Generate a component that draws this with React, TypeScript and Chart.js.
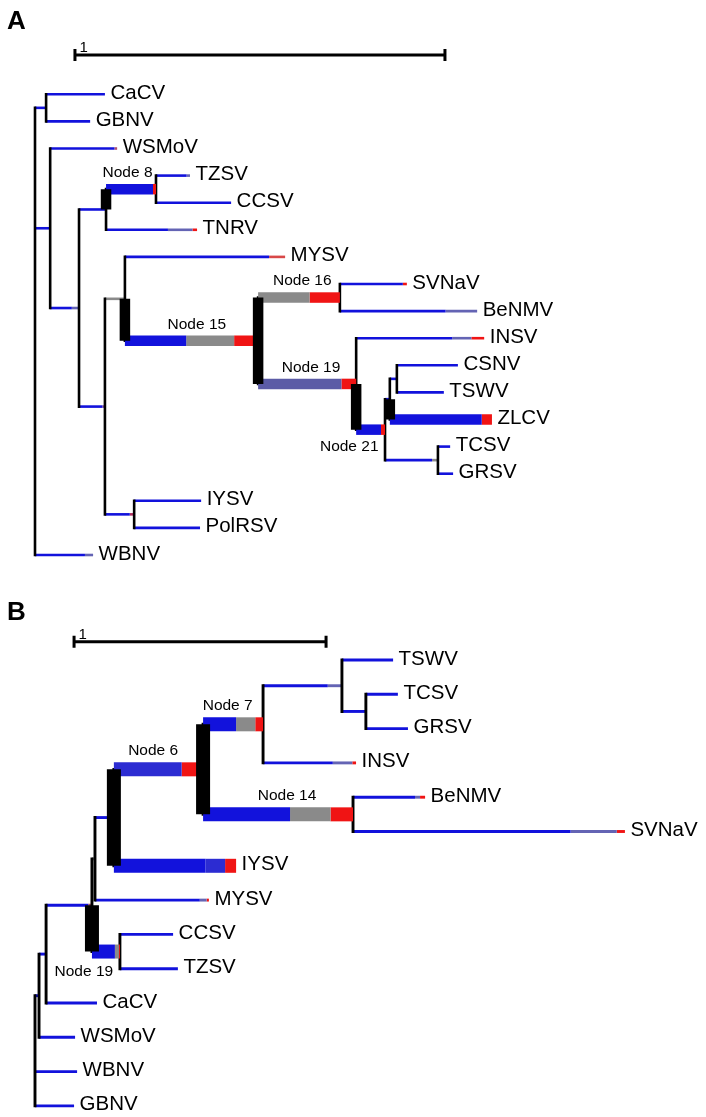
import React, { useEffect, useRef } from 'react';
import { Chart, registerables } from 'chart.js';
Chart.register(...registerables);

// ---------- colours ----------
const BLUE = '#1212dc';
const BLUE_L = '#2c2cd2';
const RED = '#f01414';
const GRAY = '#8a8a8a';
const SLATE = '#5b5ba6';
const TIP = '#6464b4';
const BLACK = '#000000';

// ---------- Panel A tree (depth in substitutions/site, scale bar = 1) ----------
const A_NODES = ['root', 'n1', 'CaCV', 'GBNV', 'n2', 'WSMoV', 'n3', 'n4', 'Node 8', 'TZSV', 'CCSV', 'TNRV', 'n5', 'n6', 'MYSV', 'Node 15', 'Node 16', 'SVNaV', 'BeNMV', 'Node 19', 'INSV', 'Node 21', 'n7', 'n8', 'CSNV', 'TSWV', 'ZLCV', 'n9', 'TCSV', 'GRSV', 'n10', 'IYSV', 'PolRSV', 'WBNV'];
const A_PARENTS = [null, 'root', 'n1', 'n1', 'root', 'n2', 'n2', 'n3', 'n4', 'Node 8', 'Node 8', 'n4', 'n3', 'n5', 'n6', 'n6', 'Node 15', 'Node 16', 'Node 16', 'Node 15', 'Node 19', 'Node 19', 'Node 21', 'n7', 'n8', 'n8', 'n7', 'Node 21', 'n9', 'n9', 'n5', 'n10', 'n10', 'root'];
const A_DEPTHS = [0, 0.030, 0.189, 0.149, 0.041, 0.222, 0.119, 0.192, 0.327, 0.419, 0.530, 0.438, 0.189, 0.243, 0.676, 0.603, 0.824, 1.005, 1.195, 0.868, 1.214, 0.946, 0.959, 0.978, 1.143, 1.105, 1.235, 1.089, 1.122, 1.130, 0.268, 0.449, 0.446, 0.157];
const A_LABELED = ['Node 8', 'Node 15', 'Node 16', 'Node 19', 'Node 21'];
const A_SCALE_VALUE = 1;

// ---------- Panel B tree ----------
const B_NODES = ['root', 'm1', 'm2', 'm3', 'm4', 'm5', 'Node 6', 'Node 7', 'm6', 'TSWV', 'm7', 'TCSV', 'GRSV', 'INSV', 'Node 14', 'BeNMV', 'SVNaV', 'IYSV', 'MYSV', 'Node 19', 'CCSV', 'TZSV', 'CaCV', 'WSMoV', 'WBNV', 'GBNV'];
const B_PARENTS = [null, 'root', 'm1', 'm2', 'm3', 'm4', 'm5', 'Node 6', 'Node 7', 'm6', 'm6', 'm7', 'm7', 'Node 7', 'Node 6', 'Node 14', 'Node 14', 'm5', 'm4', 'm3', 'Node 19', 'Node 19', 'm2', 'm1', 'root', 'root'];
const B_DEPTHS = [0, 0.016, 0.044, 0.226, 0.238, 0.313, 0.667, 0.905, 1.218, 1.421, 1.313, 1.440, 1.480, 1.274, 1.262, 1.548, 2.341, 0.798, 0.690, 0.337, 0.548, 0.567, 0.246, 0.159, 0.167, 0.155];
const B_LABELED = ['Node 6', 'Node 7', 'Node 14', 'Node 19'];
const B_SCALE_VALUE = 1;

// ---------- styles (kept apart from data) ----------
type Seg = [number, string];
type BranchStyle = { thick?: boolean; segs?: Seg[] };

const A_STYLE: Record<string, BranchStyle> = {
  'Node 8': { thick: true, segs: [[0.94, BLUE], [1, RED]] },
  'Node 15': { thick: true, segs: [[0.46, BLUE], [0.82, GRAY], [1, RED]] },
  'Node 16': { thick: true, segs: [[0.63, GRAY], [1, RED]] },
  'Node 19': { thick: true, segs: [[0.85, SLATE], [1, RED]] },
  'Node 21': { thick: true, segs: [[0.86, BLUE], [1, RED]] },
  ZLCV: { thick: true, segs: [[0.9, BLUE], [1, RED]] },
  TNRV: { segs: [[0.68, BLUE], [0.95, TIP], [1, RED]] },
  MYSV: { segs: [[0.9, BLUE], [1, '#d84848']] },
  SVNaV: { segs: [[0.94, BLUE], [1, RED]] },
  BeNMV: { segs: [[0.77, BLUE], [1, TIP]] },
  INSV: { segs: [[0.75, BLUE], [0.9, TIP], [1, RED]] },
  n9: { segs: [[0.89, BLUE], [1, GRAY]] },
  n6: { segs: [[1, GRAY]] },
  WSMoV: { segs: [[0.96, BLUE], [1, '#b05070']] },
  WBNV: { segs: [[0.86, BLUE], [1, TIP]] },
  n10: { segs: [[0.85, BLUE], [1, '#b03060']] },
  n5: { segs: [[0.9, BLUE], [1, '#8040a0']] },
  n3: { segs: [[0.75, BLUE], [1, TIP]] },
  TZSV: { segs: [[0.9, BLUE], [1, TIP]] },
};
const B_STYLE: Record<string, BranchStyle> = {
  'Node 6': { thick: true, segs: [[0.76, BLUE_L], [1, RED]] },
  'Node 7': { thick: true, segs: [[0.55, BLUE], [0.87, GRAY], [1, RED]] },
  'Node 14': { thick: true, segs: [[0.58, BLUE], [0.85, GRAY], [1, RED]] },
  IYSV: { thick: true, segs: [[0.75, BLUE], [0.91, BLUE_L], [1, RED]] },
  'Node 19': { thick: true, segs: [[0.82, BLUE], [0.96, GRAY], [1, RED]] },
  MYSV: { segs: [[0.92, BLUE], [0.98, TIP], [1, RED]] },
  INSV: { segs: [[0.75, BLUE], [0.96, TIP], [1, RED]] },
  m6: { segs: [[0.82, BLUE], [1, TIP]] },
  BeNMV: { segs: [[0.86, BLUE], [0.93, TIP], [1, RED]] },
  SVNaV: { segs: [[0.8, BLUE], [0.97, TIP], [1, RED]] },
  m4: { segs: [[1, GRAY]] },
  m5: { segs: [[0.9, BLUE], [1, '#a03070']] },
  m3: { segs: [[0.92, BLUE], [1, '#a05060']] },
};
// label placement: [fraction along the branch, above/below]
const A_LABEL_POS: Record<string, [number, 'above' | 'below']> = {
  'Node 8': [0.43, 'above'], 'Node 15': [0.54, 'above'], 'Node 16': [0.54, 'above'],
  'Node 19': [0.54, 'above'], 'Node 21': [-0.24, 'below'],
};
const B_LABEL_POS: Record<string, [number, 'above' | 'below']> = {
  'Node 6': [0.44, 'above'], 'Node 7': [0.41, 'above'], 'Node 14': [0.56, 'above'], 'Node 19': [-0.29, 'below'],
};

type Layout = {
  letter: string; height: number; rootPx: number; unitPx: number; firstLeafPx: number; leafGap: number;
  thin: number; thick: number; above: number; below: number; scaleStart: number; scaleRow: number; letterY: number;
};
const A_LAYOUT: Layout = { letter: 'A', height: 590, rootPx: 35, unitPx: 370, firstLeafPx: 94.3, leafGap: 27.1, thin: 2.6, thick: 10.5, above: 16.5, below: 17, scaleStart: 0.108, scaleRow: -1.45, letterY: 29 };
const B_LAYOUT: Layout = { letter: 'B', height: 527, rootPx: 35, unitPx: 252, firstLeafPx: 70, leafGap: 34.3, thin: 2.9, thick: 14, above: 18.5, below: 20, scaleStart: 0.155, scaleRow: -0.53, letterY: 30 };

const FONT = '"Liberation Sans", Arial, Helvetica, sans-serif';

function buildConfig(nodes: string[], parents: (string | null)[], depths: number[], style: Record<string, BranchStyle>,
  labeled: string[], labelPos: Record<string, [number, 'above' | 'below']>, scaleValue: number, L: Layout) {
  const idx = new Map(nodes.map((n, i) => [n, i] as [string, number]));
  const children: number[][] = nodes.map(() => []);
  parents.forEach((p, i) => { if (p !== null) children[idx.get(p)!].push(i); });
  const y: number[] = new Array(nodes.length).fill(0);
  let leaf = 0;
  const visit = (i: number) => {
    const c = children[i];
    if (c.length === 0) { y[i] = leaf++; return; }
    c.forEach(visit);
    y[i] = (y[c[0]] + y[c[c.length - 1]]) / 2;
  };
  visit(0);

  const datasets: any[] = [];
  const line = (x0: number, y0: number, x1: number, y1: number, color: string, width: number, cap: string, order: number) => {
    datasets.push({
      data: [{ x: x0, y: y0 }, { x: x1, y: y1 }], showLine: true, borderColor: color, backgroundColor: color,
      borderWidth: width, borderCapStyle: cap, pointRadius: 0, pointHoverRadius: 0, order, tension: 0,
    });
  };

  nodes.forEach((n, i) => {
    const p = parents[i];
    if (p === null) return;
    const pi = idx.get(p)!;
    const st = style[n] || {};
    const segs: Seg[] = st.segs || [[1, BLUE]];
    const x0 = depths[pi], x1 = depths[i];
    let f0 = 0;
    segs.forEach(([f1, col]) => {
      line(x0 + (x1 - x0) * f0, y[i], x0 + (x1 - x0) * f1, y[i], col, st.thick ? L.thick : L.thin, 'butt', st.thick ? 1 : 3);
      f0 = f1;
    });
  });
  nodes.forEach((n, i) => {
    const c = children[i];
    if (c.length === 0) return;
    line(depths[i], y[c[0]], depths[i], y[c[c.length - 1]], BLACK, L.thin, 'square', 2);
    const thickYs = c.filter((ci) => (style[nodes[ci]] || {}).thick).map((ci) => y[ci]);
    if (thickYs.length) {
      const ys = [y[i], ...thickYs];
      line(depths[i], Math.min(...ys), depths[i], Math.max(...ys), BLACK, L.thick, 'butt', 0);
    }
  });

  const xmin = -L.rootPx / L.unitPx, xmax = (706 - L.rootPx) / L.unitPx;
  const ymin = -L.firstLeafPx / L.leafGap, ymax = (L.height - L.firstLeafPx) / L.leafGap;

  const textPlugin = {
    id: 'treeText',
    afterDatasetsDraw(chart: any) {
      const ctx = chart.ctx as CanvasRenderingContext2D;
      const xs = chart.scales.x, ys = chart.scales.y;
      ctx.save();
      ctx.fillStyle = BLACK;
      // panel letter
      ctx.font = `bold 26px ${FONT}`;
      ctx.textBaseline = 'alphabetic';
      ctx.textAlign = 'left';
      ctx.fillText(L.letter, 7, L.letterY);
      // scale bar
      const sx0 = xs.getPixelForValue(L.scaleStart), sx1 = xs.getPixelForValue(L.scaleStart + scaleValue);
      const sy = ys.getPixelForValue(L.scaleRow);
      ctx.strokeStyle = BLACK;
      ctx.lineWidth = 3;
      ctx.beginPath();
      ctx.moveTo(sx0, sy); ctx.lineTo(sx1, sy);
      ctx.moveTo(sx0, sy - 6); ctx.lineTo(sx0, sy + 6);
      ctx.moveTo(sx1, sy - 6); ctx.lineTo(sx1, sy + 6);
      ctx.stroke();
      ctx.font = `15px ${FONT}`;
      ctx.fillText(String(scaleValue), sx0 + 4.5, sy - 3);
      // leaf labels
      ctx.font = `20.5px ${FONT}`;
      nodes.forEach((n, i) => {
        if (children[i].length) return;
        ctx.fillText(n, xs.getPixelForValue(depths[i]) + 5.5, ys.getPixelForValue(y[i]) + 4.5);
      });
      // node labels
      ctx.font = `15.5px ${FONT}`;
      ctx.textAlign = 'center';
      ctx.textBaseline = 'middle';
      labeled.forEach((n) => {
        const i = idx.get(n)!;
        const pi = idx.get(parents[i]!)!;
        const [f, side] = labelPos[n];
        const px0 = xs.getPixelForValue(depths[pi]), px1 = xs.getPixelForValue(depths[i]);
        const py = ys.getPixelForValue(y[i]);
        ctx.fillText(n, px0 + (px1 - px0) * f, side === 'above' ? py - L.above : py + L.below);
      });
      ctx.restore();
    },
  };

  return {
    type: 'scatter' as const,
    data: { datasets },
    options: {
      animation: false as const,
      responsive: false,
      events: [] as any[],
      layout: { padding: 0 },
      plugins: { legend: { display: false }, tooltip: { enabled: false } },
      scales: {
        x: { type: 'linear' as const, display: false, min: xmin, max: xmax },
        y: { type: 'linear' as const, display: false, min: ymin, max: ymax, reverse: true },
      },
    },
    plugins: [textPlugin],
  };
}

function TreePanel(props: { which: 'A' | 'B' }) {
  const ref = useRef<HTMLCanvasElement>(null);
  const L = props.which === 'A' ? A_LAYOUT : B_LAYOUT;
  useEffect(() => {
    const cfg = props.which === 'A'
      ? buildConfig(A_NODES, A_PARENTS, A_DEPTHS, A_STYLE, A_LABELED, A_LABEL_POS, A_SCALE_VALUE, A_LAYOUT)
      : buildConfig(B_NODES, B_PARENTS, B_DEPTHS, B_STYLE, B_LABELED, B_LABEL_POS, B_SCALE_VALUE, B_LAYOUT);
    const chart = new Chart(ref.current as HTMLCanvasElement, cfg as any);
    return () => chart.destroy();
  }, [props.which]);
  return <canvas ref={ref} width={706} height={L.height} style={{ display: 'block', width: 706, height: L.height }} />;
}

export default function App() {
  return (
    <div style={{ position: 'absolute', left: 0, top: 0, width: 706, height: 1117, background: '#ffffff' }}>
      <TreePanel which="A" />
      <TreePanel which="B" />
    </div>
  );
}
